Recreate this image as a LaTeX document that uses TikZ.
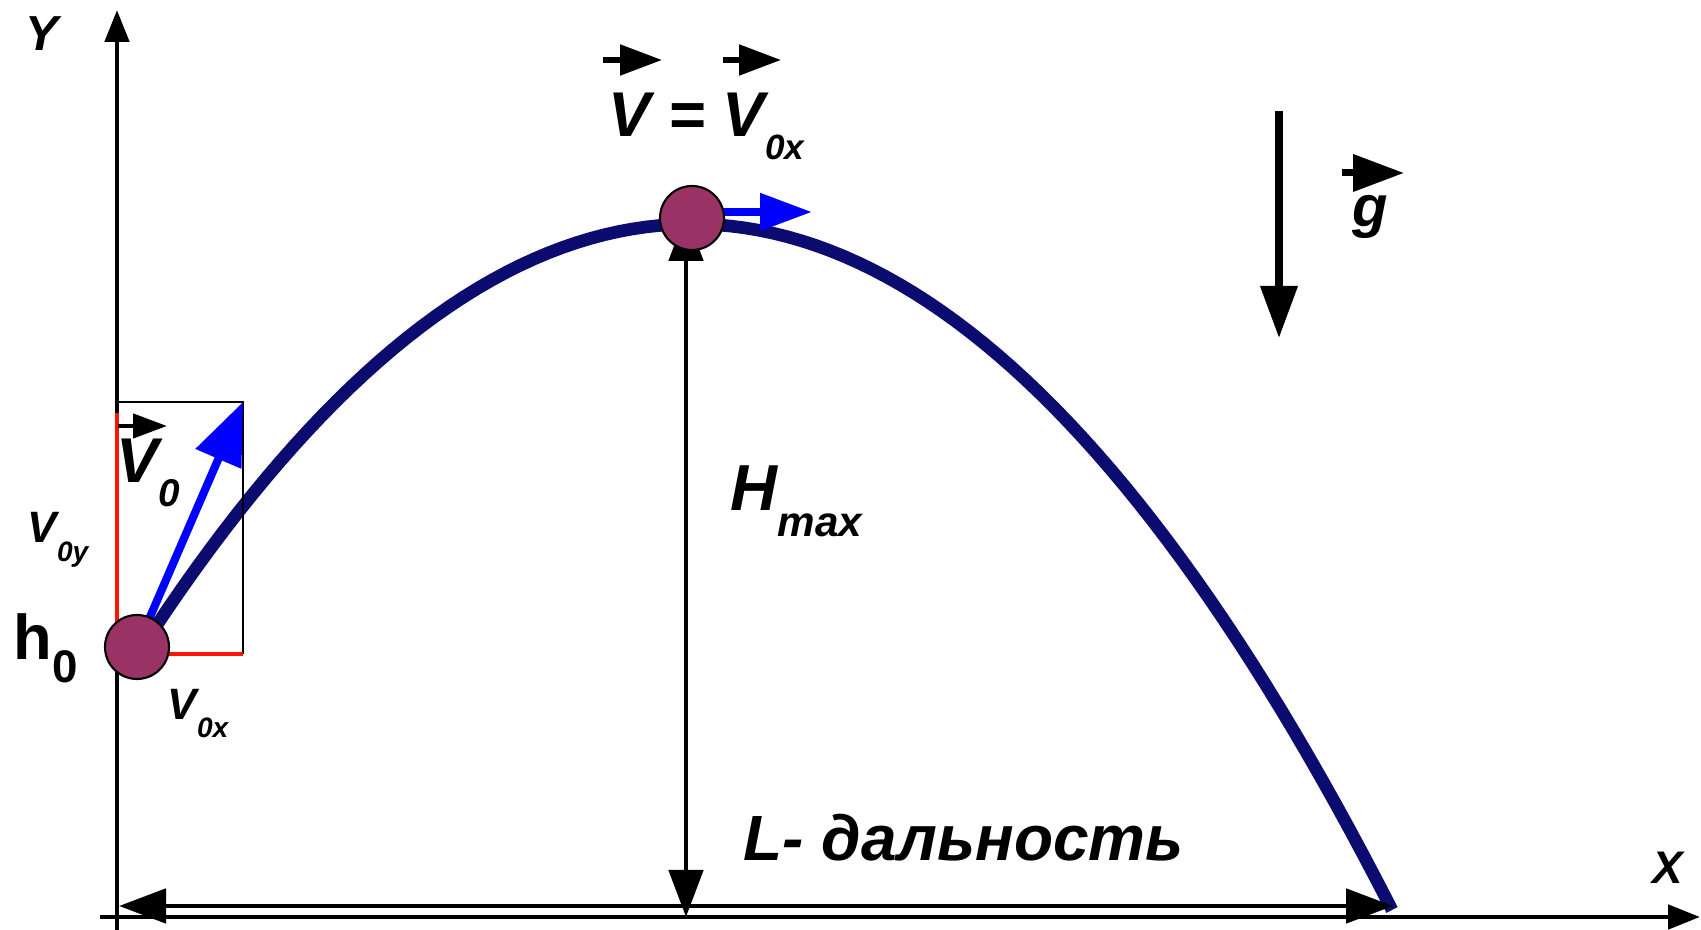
\documentclass[tikz,border=0pt]{standalone}
\usepackage{fontspec}
\newfontfamily\arialf{Liberation Sans}
\usepackage{tikz}
\usetikzlibrary{arrows.meta}
\definecolor{ballc}{RGB}{153,51,102}
\definecolor{pathc}{RGB}{12,12,112}
\definecolor{redline}{RGB}{255,20,0}
\newcommand{\lowtxt}[3]{\raisebox{-#1}{\fontsize{#2}{#2}\selectfont #3}}

\begin{document}
\begin{tikzpicture}[x=0.1mm, y=-0.1mm,
		lbl/.style={inner sep=0pt, anchor=base west, font=\arialf\bfseries\itshape\fontsize{#1}{#1}\selectfont},
		ax/.style={line width=1.4pt, -{Triangle[length=3.2mm, width=2.4mm]}},
		dim/.style={line width=1.4pt, {Triangle[length=4.7mm, width=3.4mm]}-{Triangle[length=4.7mm, width=3.4mm]}},
		vel/.style={blue, line width=2.3pt, -{Triangle[length=5.2mm, width=3.6mm]}},
		vec/.style={line width=1.5pt, -{Triangle[length=4.2mm, width=3mm]}},
		ball/.style={circle, draw, line width=0.6pt, fill=ballc, minimum size=6.4mm, inner sep=0pt}]
		\useasboundingbox (0,0) rectangle (1701,930);
		
		% Trajectory
		\draw[pathc, line width=3.6pt] plot[domain=140:1392, samples=90] (\x, {224+14*((\x-692)/100)^2});
		
		% Axes
		\coordinate (o1) at (117,930);
		\coordinate (ytip) at (117,10);
		\coordinate (o2) at (100,917);
		\coordinate (xtip) at (1700,917);
		\draw[ax] (o1) -- (ytip);
		\draw[ax] (o2) -- (xtip);
		
		% Ball positions
		\coordinate (c0) at (137,647);
		\coordinate (c1) at (692,218);
		
		% Components of the start velocity
		\draw[line width=0.5pt] (117,402) -- (243,402) -- (243,654);
		\draw[redline, line width=1.4pt] (117,413) -- (117,645);
		\draw[redline, line width=1.3pt] (c0 |- 0,654) -- (243,654);
		
		% Range and height
		\coordinate (lend) at (1393,906);
		\draw[dim] (119,906) -- (lend);
		\draw[dim] (686,214) -- (686,917);
		
		% Velocities and g
		\coordinate (v0tip) at (243,402);
		\draw[vel, -{Triangle[length=6.2mm, width=4.8mm]}] (c0) -- (v0tip);
		\draw[vel] ([yshift=0.6mm]c1) -- ++(120,0);
		\draw[line width=2pt, -{Triangle[length=5.2mm, width=3.6mm]}] (1279,111) -- (1279,338);
		
		% Balls
		\node[ball] (b0) at (c0) {};
		\node[ball] (b1) at (c1) {};
		
		% Labels
		\node[lbl=14, anchor=center] (ylab) at (42,34) {Y};
		\node[lbl=13, anchor=center] (xlab) at (1668,868) {X};
		\node[lbl=18] (vtop) at (608,137) {V = V\lowtxt{6.5pt}{10}{0x}};
		\node[lbl=18.5] (hmax) at (730,511) {H\lowtxt{7.4pt}{12}{max}};
		\node[lbl=18.2] (range) at (743,861) {L- дальность};
		\node[lbl=16.5] (glab) at (1352,227) {g};
		\node[lbl=18] (v0) at (116,483) {V\lowtxt{6.8pt}{11}{0}};
		\node[lbl=12.5] (v0y) at (27,543) {V\lowtxt{5.4pt}{8}{0y}};
		\node[lbl=18] (h0) at (13,660) {\upshape h\lowtxt{6.5pt}{13}{0}};
		\node[lbl=12.5] (v0x) at (167,720) {V\lowtxt{5pt}{8}{0x}};
		
		% Vector marks over the letters
		\draw[vec] (603,60) -- (662,60);
		\draw[vec] (723,60) -- (781,60);
		\draw[vec, line width=1.3pt, -{Triangle[length=3.4mm, width=2.4mm]}] (118,426) -- (167,426);
		\draw[vec, line width=2pt, -{Triangle[length=5.1mm, width=3.6mm]}] (1342,173) -- (1404,173);
	\end{tikzpicture}
\end{document}
